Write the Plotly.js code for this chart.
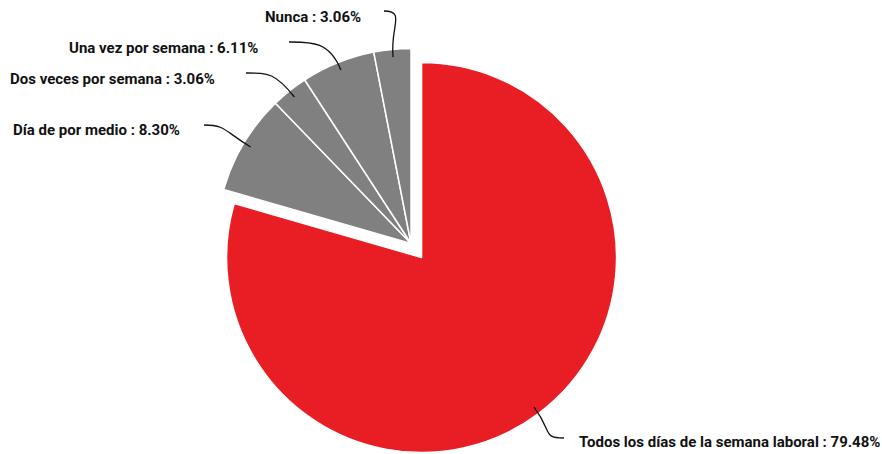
<!DOCTYPE html>
<html><head><meta charset="utf-8">
<script src="https://cdn.plot.ly/plotly-3.0.1.min.js"></script>
<style>html,body{margin:0;padding:0;background:#fff;overflow:hidden}</style>
</head><body>
<div id="chart" style="width:882px;height:460px"></div>
<script>
const categories = ["Todos los días de la semana laboral","Día de por medio","Dos veces por semana","Una vez por semana","Nunca"];
const values = [79.48, 8.30, 3.06, 6.11, 3.06];
const valueLabels = ["79.48%","8.30%","3.06%","6.11%","3.06%"];
const colors = ["#E91E24","#808080","#808080","#808080","#808080"];
const pulls = [0.09, 0, 0, 0, 0];

const W = 882, H = 460;
const R = 195, CX = 411, CY = 243.5;
const boxH = 2*(1+Math.max(...pulls))*R;
const y0 = (H - (CY + boxH/2))/H;
const domY = [y0, y0 + boxH/H];
const domX = [CX/W - 0.3, CX/W + 0.3];

// label layout (pixels): leader line end point, text edge position
const labelAnchors = [
  {x: 564, y: 438, tx: 578, ty: 442, side: "left"},
  {x: 204, y: 125, tx: 181, ty: 130, side: "right"},
  {x: 246, y: 73, tx: 216, ty: 79, side: "right"},
  {x: 289, y: 42, tx: 259, ty: 48, side: "right"},
  {x: 384, y: 11, tx: 362, ty: 17, side: "right"}
];
const font = "Roboto, 'Open Sans', sans-serif";

const boxW = W*(domX[1]-domX[0]);
const r = Math.min(boxW, boxH)/(2+2*Math.max(...pulls));
const cx = W*(domX[0]+domX[1])/2;
const cy = H*(1-domY[0]) - boxH/2;
const total = values.reduce((a,b)=>a+b,0);

const shapes = [], annotations = [];
let cum = 0;
values.forEach((v,i)=>{
  const mid = (cum + v/2)/total*2*Math.PI;
  cum += v;
  const sx = Math.sin(mid), sy = -Math.cos(mid);
  const ox = cx + pulls[i]*r*sx, oy = cy + pulls[i]*r*sy;
  const p0 = [ox + r*0.96*sx, oy + r*0.96*sy];
  const p1 = [ox + r*1.12*sx, oy + r*1.12*sy];
  const a = labelAnchors[i];
  const hdir = a.side === "right" ? 1 : -1;
  const p2 = [a.x + hdir*22, a.y];
  const p3 = [a.x, a.y];
  const px = p => (p[0]/W).toFixed(5), py = p => (1-p[1]/H).toFixed(5);
  shapes.push({type:"path", xref:"paper", yref:"paper",
    path:`M ${px(p0)},${py(p0)} C ${px(p1)},${py(p1)} ${px(p2)},${py(p2)} ${px(p3)},${py(p3)}`,
    line:{color:"#111", width:1.3}});
  annotations.push({xref:"paper", yref:"paper",
    x: a.tx/W, y: 1-a.ty/H,
    xanchor: a.side === "right" ? "right" : "left", yanchor:"middle",
    xshift: 0, text: `<b>${categories[i]} : ${valueLabels[i]}</b>`, showarrow:false,
    borderpad:0, font:{family:font, size:15, color:"#111"}});
});

const data = [{
  type:"pie", labels:categories, values:values, sort:false, direction:"clockwise",
  rotation:0, pull:pulls, textinfo:"none", hoverinfo:"label+percent",
  marker:{colors:colors, line:{color:"#fff", width:1.5}},
  domain:{x:domX, y:domY}, automargin:false
}];
const layout = {width:W, height:H, margin:{l:0,r:0,t:0,b:0}, showlegend:false,
  paper_bgcolor:"#fff", shapes:shapes, annotations:annotations};
Plotly.newPlot("chart", data, layout, {displayModeBar:false, staticPlot:true});
</script>
</body></html>
